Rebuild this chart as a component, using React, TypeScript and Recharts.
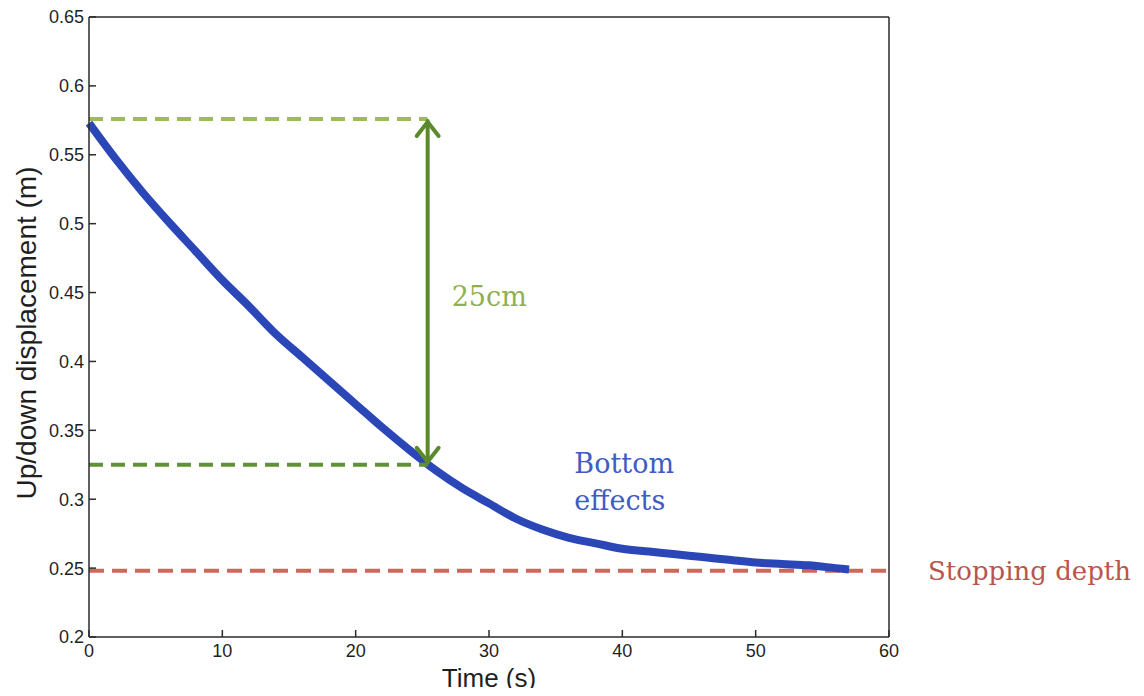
// Descent curve: up/down displacement vs time, with 25cm drop and stopping depth annotations

import { LineChart, Line, XAxis, YAxis, ReferenceLine, ReferenceDot, Label } from 'recharts'

const timeS = [0, 2, 4, 6, 8, 10, 12, 14, 16, 18, 20, 22, 24, 26, 28, 30, 32, 34, 36, 38, 40, 42, 44, 46, 48, 50, 52, 54, 56, 57]
const displacementM = [
  0.573, 0.547, 0.523, 0.501, 0.48, 0.459, 0.44, 0.42, 0.403, 0.386, 0.369, 0.352, 0.336, 0.321, 0.308,
  0.297, 0.286, 0.278, 0.272, 0.268, 0.264, 0.262, 0.26, 0.258, 0.256, 0.254, 0.253, 0.252, 0.25, 0.249,
]

const xTicks = [0, 10, 20, 30, 40, 50, 60]
const yTicks = [0.2, 0.25, 0.3, 0.35, 0.4, 0.45, 0.5, 0.55, 0.6, 0.65]

// annotation levels (m) and time (s)
const startDepth = 0.576
const after25cm = 0.325
const stoppingDepth = 0.248
const markTime = 25.4

const data = timeS.map((t, i) => ({ t, y: displacementM[i] }))

const axisColor = '#2b2b2b'
const sans = 'Liberation Sans, Arial, sans-serif'
const serif = 'DejaVu Serif, serif'

function AxisTick(props: any) {
  const { x, y, payload, textAnchor, verticalAnchor } = props
  return (
    <text
      x={x}
      y={y}
      textAnchor={textAnchor}
      dy={verticalAnchor === 'start' ? '0.71em' : '0.355em'}
      fontSize={18}
      fontFamily={sans}
      fill="#1f1f1f"
    >
      {payload.value}
    </text>
  )
}

function DoubleArrow(props: any) {
  const { x1, y1, x2, y2 } = props
  const top = Math.min(y1, y2)
  const bottom = Math.max(y1, y2)
  const c = '#5a8a2c'
  return (
    <g stroke={c} strokeWidth={4} fill="none" strokeLinecap="round" strokeLinejoin="round">
      <line x1={x1} y1={top + 2} x2={x2} y2={bottom - 2} />
      <polyline points={`${x1 - 11},${top + 17} ${x1},${top + 3} ${x1 + 11},${top + 17}`} />
      <polyline points={`${x1 - 11},${bottom - 17} ${x1},${bottom - 3} ${x1 + 11},${bottom - 17}`} />
    </g>
  )
}

function textShape(lines: string[], color: string) {
  return (p: any) => (
    <text x={p.cx} y={p.cy} fill={color} fontSize={27} fontFamily={serif}>
      {lines.map((l, i) => (
        <tspan key={i} x={p.cx} dy={i === 0 ? 0 : 37}>
          {l}
        </tspan>
      ))}
    </text>
  )
}

export default function App() {
  return (
    <div style={{ width: 1144, height: 696, margin: -8, background: '#fff' }}>
      <LineChart width={1144} height={696} data={data} margin={{ top: 16, right: 254, bottom: 0, left: 0 }}>
        <XAxis
          dataKey="t"
          type="number"
          domain={[0, 60]}
          ticks={xTicks}
          interval={0}
          height={59}
          tickSize={-7}
          tickMargin={14}
          tick={<AxisTick />}
          stroke={axisColor}
          strokeWidth={1.5}
        >
          <Label
            value="Time (s)"
            position="insideBottom"
            offset={9}
            style={{ fontSize: 26, fill: '#1f1f1f', fontFamily: sans }}
          />
        </XAxis>
        <XAxis
          xAxisId="top"
          orientation="top"
          type="number"
          domain={[0, 60]}
          ticks={xTicks}
          interval={0}
          height={1}
          tickSize={-7}
          tick={false}
          stroke={axisColor}
          strokeWidth={1.5}
        />
        <YAxis
          type="number"
          domain={[0.2, 0.65]}
          ticks={yTicks}
          interval={0}
          width={89}
          tickSize={-7}
          tickMargin={12}
          tick={<AxisTick />}
          stroke={axisColor}
          strokeWidth={1.5}
        >
          <Label
            value="Up/down displacement (m)"
            angle={-90}
            position="center"
            dx={-18}
            dy={6}
            style={{ fontSize: 28, fill: '#1f1f1f', fontFamily: sans, textAnchor: 'middle' }}
          />
        </YAxis>
        <YAxis
          yAxisId="right"
          orientation="right"
          type="number"
          domain={[0.2, 0.65]}
          ticks={yTicks}
          interval={0}
          width={1}
          tickSize={-7}
          tick={false}
          stroke={axisColor}
          strokeWidth={1.5}
        />

        <ReferenceLine
          y={stoppingDepth}
          stroke="#d0675a"
          strokeWidth={4}
          strokeDasharray="15 8"
          label={{
            value: 'Stopping depth',
            position: 'right',
            offset: 39,
            fill: '#b9564b',
            fontSize: 26,
            fontFamily: serif,
          }}
        />

        <Line
          type="monotone"
          dataKey="y"
          stroke="#2b47b7"
          strokeWidth={8}
          dot={false}
          isAnimationActive={false}
        />

        <ReferenceLine
          segment={[
            { x: 0, y: startDepth },
            { x: markTime, y: startDepth },
          ]}
          stroke="#9dbb5a"
          strokeWidth={4}
          strokeDasharray="14 8"
        />
        <ReferenceLine
          segment={[
            { x: 0, y: after25cm },
            { x: markTime, y: after25cm },
          ]}
          stroke="#5f9234"
          strokeWidth={4}
          strokeDasharray="14 8"
        />
        <ReferenceLine
          segment={[
            { x: markTime, y: startDepth },
            { x: markTime, y: after25cm },
          ]}
          shape={DoubleArrow}
        />

        <ReferenceDot x={27.2} y={0.44} shape={textShape(['25cm'], '#8fb050')} />
        <ReferenceDot x={36.4} y={0.319} shape={textShape(['Bottom', 'effects'], '#3d5cc4')} />
      </LineChart>
    </div>
  )
}
